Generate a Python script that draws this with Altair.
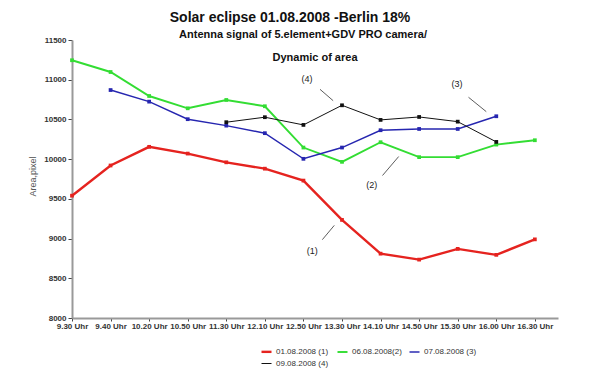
import json
import altair as alt
import pandas as pd

times = ["9.30 Uhr", "9.40 Uhr", "10.20 Uhr", "10.50 Uhr", "11.30 Uhr", "12.10 Uhr",
         "12.50 Uhr", "13.30 Uhr", "14.10 Uhr", "14.50 Uhr", "15.30 Uhr", "16.00 Uhr", "16.30 Uhr"]
s1 = [9540, 9920, 10155, 10070, 9960, 9880, 9730, 9235, 8810, 8735, 8870, 8795, 8990]
s2 = [11245, 11097, 10795, 10640, 10745, 10666, 10146, 9966, 10213, 10025, 10025, 10183, 10238]
s3 = [None, 10870, 10724, 10503, 10422, 10327, 10004, 10146, 10364, 10380, 10380, 10540, None]
s4 = [None, None, None, None, 10465, 10528, 10431, 10678, 10494, 10531, 10472, 10217, None]
series_names = ["01.08.2008 (1)", "06.08.2008(2)", "07.08.2008 (3)", "09.08.2008 (4)"]
colors = ["#e5231f", "#33dd33", "#2626b0", "#111111"]
widths = [2.4, 1, 1, 1]
y_ticks = [8000, 8500, 9000, 9500, 10000, 10500, 11000, 11500]

# annotation labels and leader lines (data coordinates: time index, value)
ann_text = ["(4)", "(3)", "(2)", "(1)"]
ann_tx = [6.09, 9.98, 7.77, 6.23]
ann_ty = [11009, 10946, 9678, 8848]
lead_x1 = [6.43, 10.28, 8.05, 6.49]
lead_y1 = [10879, 10779, 9794, 8986]
lead_x2 = [6.77, 10.74, 8.47, 6.80]
lead_y2 = [10736, 10598, 10033, 9166]

rows = []
for name, vals in zip(series_names, [s1, s2, s3, s4]):
    for i, v in enumerate(vals):
        if v is not None:
            rows.append({"series": name, "t": i, "value": v})
df = pd.DataFrame(rows)
ann = pd.DataFrame({"label": ann_text, "x": ann_tx, "y": ann_ty})
leads = pd.DataFrame({"x": lead_x1, "y": lead_y1, "x2": lead_x2, "y2": lead_y2})

FONT = "Liberation Sans"
label_expr = json.dumps(times) + "[datum.value]"

xscale = alt.Scale(domain=[0, 12.6], nice=False, zero=False)
yscale = alt.Scale(domain=[8000, 11500], nice=False, zero=False)

xaxis = alt.Axis(
    values=list(range(13)), labelExpr=label_expr, title=None, grid=False,
    labelFont=FONT, labelFontSize=8, labelFontWeight="bold", labelColor="#333",
    domainColor="#999", domainWidth=2, tickColor="#444", tickSize=3, labelPadding=1,
    labelFlush=False, labelOverlap=False)
yaxis = alt.Axis(
    values=y_ticks, tickCount=8, format="d", title="Area,pixel",
    grid=False, labelFont=FONT, labelFontSize=8, labelFontWeight="bold", labelColor="#333",
    domainColor="#999", domainWidth=2, tickColor="#444", tickSize=4, labelPadding=2,
    titleFont=FONT, titleFontSize=9, titleFontWeight="normal", titleColor="#555",
    titleX=-40, titleY=136, titleAngle=-90, titleAlign="center", titleBaseline="middle",
    labelFlush=False, labelOverlap=False)

legend = alt.Legend(title=None, orient="none", legendX=188, legendY=305, columns=3,
                    direction="horizontal", symbolType="stroke", symbolStrokeWidth=2,
                    symbolSize=100, labelFont=FONT, labelFontSize=8, labelColor="#333",
                    columnPadding=4, rowPadding=1, symbolOffset=0, labelOffset=3)
color = alt.Color("series:N", scale=alt.Scale(domain=series_names, range=colors), legend=legend)

lines = alt.Chart(df).mark_line().encode(
    x=alt.X("t:Q", scale=xscale, axis=xaxis),
    y=alt.Y("value:Q", scale=yscale, axis=yaxis),
    color=color,
    strokeWidth=alt.StrokeWidth("series:N", scale=alt.Scale(domain=series_names, range=widths), legend=None),
    detail="series:N")
points = alt.Chart(df).mark_square(size=14, opacity=1).encode(
    x=alt.X("t:Q", scale=xscale, axis=xaxis),
    y=alt.Y("value:Q", scale=yscale, axis=yaxis),
    color=color)

rules = alt.Chart(leads).mark_rule(color="#333", strokeWidth=0.8).encode(
    x=alt.X("x:Q", scale=xscale, axis=xaxis), y=alt.Y("y:Q", scale=yscale, axis=yaxis),
    x2="x2:Q", y2="y2:Q")
texts = alt.Chart(ann).mark_text(font=FONT, fontSize=9, color="#222").encode(
    x=alt.X("x:Q", scale=xscale, axis=xaxis), y=alt.Y("y:Q", scale=yscale, axis=yaxis),
    text="label:N")

titles = pd.DataFrame({
    "txt": ["Solar eclipse 01.08.2008 -Berlin 18%", "Antenna signal of 5.element+GDV PRO camera/", "Dynamic of area"],
})
t1 = alt.Chart(titles.iloc[[0]]).mark_text(font=FONT, fontSize=14, fontWeight="bold", color="#111").encode(
    text="txt:N", x=alt.value(218), y=alt.value(-22))
t2 = alt.Chart(titles.iloc[[1]]).mark_text(font=FONT, fontSize=11, fontWeight="bold", color="#111").encode(
    text="txt:N", x=alt.value(231), y=alt.value(-5))
t3 = alt.Chart(titles.iloc[[2]]).mark_text(font=FONT, fontSize=11, fontWeight="bold", color="#111").encode(
    text="txt:N", x=alt.value(243), y=alt.value(18))

chart = alt.layer(lines, points, rules, texts, t1, t2, t3).properties(
    width=486, height=278,
    autosize=alt.AutoSizeParams(type="none"),
    padding={"left": 64, "top": 32, "right": 20, "bottom": 52},
    background="white",
).configure_view(stroke=None)

chart.save("out.html", embed_options={"renderer": "svg", "actions": False})
